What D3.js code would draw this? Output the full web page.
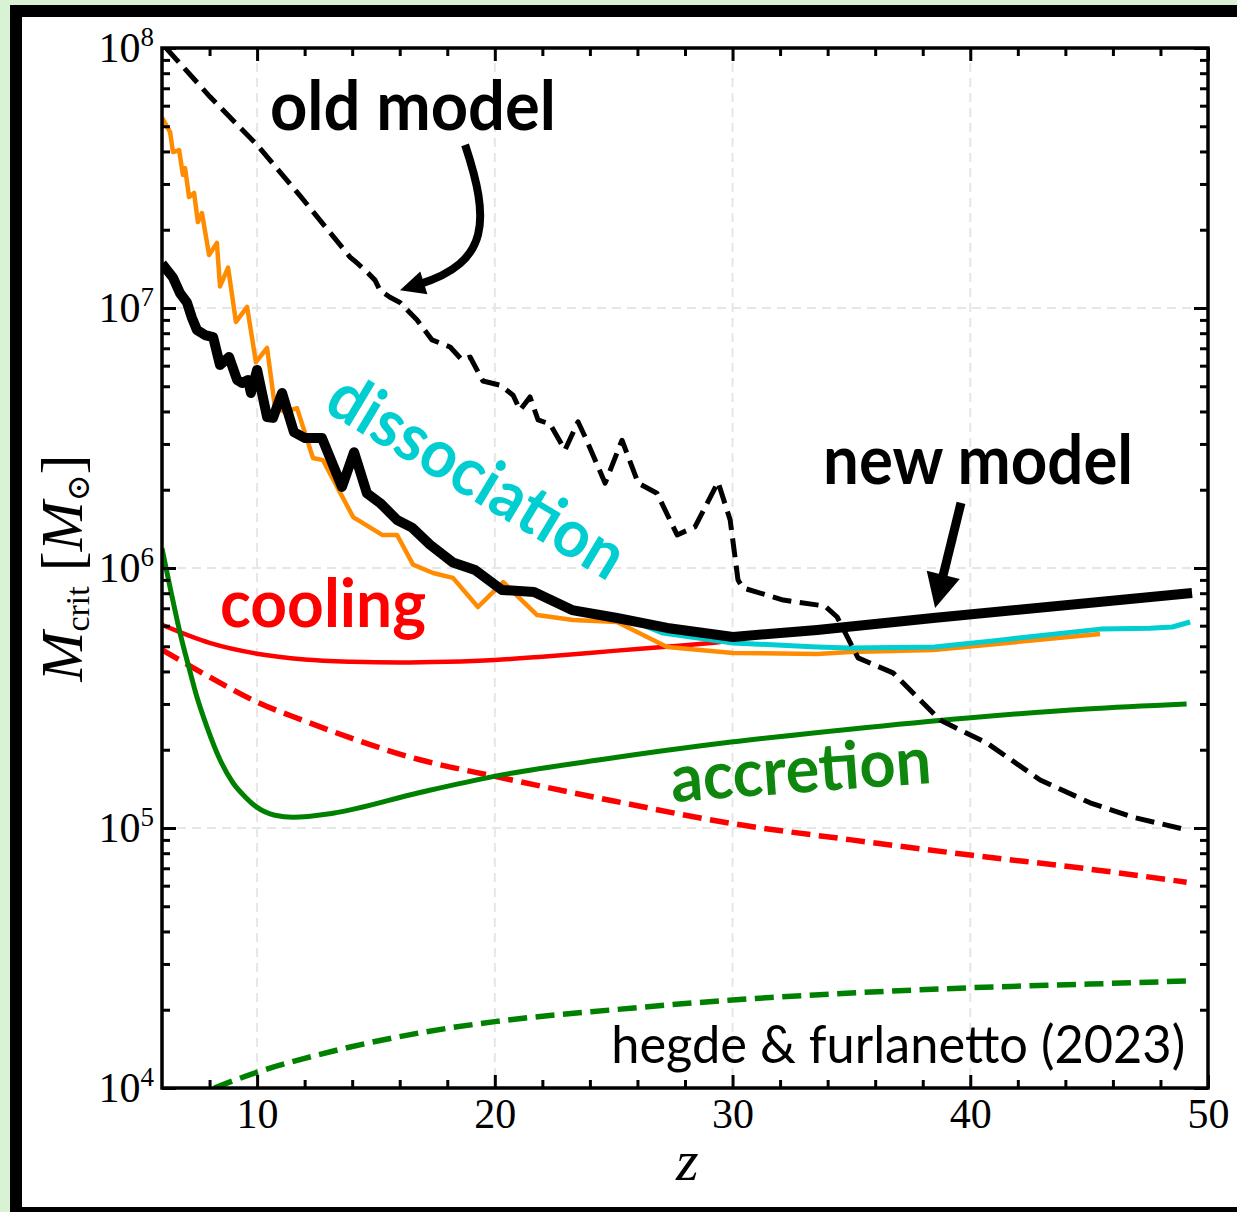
<!DOCTYPE html>
<html>
<head>
<meta charset="utf-8" />
<title>Critical halo mass vs redshift</title>
<script src="https://cdnjs.cloudflare.com/ajax/libs/d3/7.8.5/d3.min.js"></script>
<style>
	body { margin: 0; background: #d9f2d3; }
	svg { display: block; }
	.tick line { stroke: #000; stroke-width: 3; }
	.serif { font-family: "Liberation Serif", "DejaVu Serif", serif; fill: #000; }
	.note { font-family: Lato, "Noto Sans", sans-serif; font-weight: 700; }
</style>
</head>
<body>
<svg id="chart" width="1237" height="1212"></svg>
<script>
// axis ticks
const xMajor = [10, 20, 30, 40, 50];
const xMinor = [8, 12, 14, 16, 18, 22, 24, 26, 28, 32, 34, 36, 38, 42, 44, 46, 48];
const yExps = [4, 5, 6, 7, 8];
const xGrid = [10, 20, 30, 40];
const yGrid = [1e5, 1e6, 1e7];

// old model (black dashed)
const zOld = [6.17, 8.02, 10.0, 11.81, 13.91, 14.20, 14.54, 14.96, 15.17, 15.59, 16.01, 16.73, 17.36, 18.12, 18.62, 18.96, 19.50, 20.22, 20.77, 21.06, 21.48, 21.82, 22.32, 22.95, 23.50, 23.80, 24.64, 25.35, 26.03, 26.82, 27.67, 28.42, 29.39, 29.90, 30.23, 30.44, 32.13, 33.89, 34.40, 35.28, 36.75, 38.73, 40.71, 42.94, 45.04, 46.85, 49.12];
const mOld = [1.0e8, 6.49e7, 4.24e7, 2.70e7, 1.57e7, 1.49e7, 1.40e7, 1.28e7, 1.17e7, 1.10e7, 1.05e7, 8.99e6, 7.54e6, 7.08e6, 6.31e6, 6.48e6, 5.24e6, 5.05e6, 4.62e6, 4.05e6, 4.55e6, 3.71e6, 3.58e6, 2.84e6, 3.65e6, 3.19e6, 2.12e6, 3.10e6, 2.12e6, 1.94e6, 1.34e6, 1.44e6, 2.14e6, 1.53e6, 8.99e5, 8.38e5, 7.53e5, 7.14e5, 6.48e5, 4.51e5, 3.95e5, 2.60e5, 2.12e5, 1.53e5, 1.25e5, 1.10e5, 9.83e4];

// new model (thick black)
const zNew = [6.0, 6.46, 6.76, 7.05, 7.26, 7.47, 7.81, 8.15, 8.44, 8.82, 9.16, 9.37, 9.62, 9.74, 10.0, 10.42, 10.67, 11.05, 11.55, 12.02, 12.73, 13.57, 14.08, 14.62, 15.17, 15.89, 16.52, 17.27, 18.24, 19.17, 20.30, 21.65, 23.25, 25.14, 27.25, 30.02, 33.56, 38.44, 49.33];
const mNew = [1.48e7, 1.31e7, 1.14e7, 1.05e7, 9.16e6, 8.23e6, 7.87e6, 7.73e6, 6.04e6, 6.48e6, 5.29e6, 5.15e6, 5.29e6, 4.71e6, 5.78e6, 3.81e6, 3.78e6, 4.71e6, 3.33e6, 3.16e6, 3.16e6, 2.05e6, 2.79e6, 1.94e6, 1.78e6, 1.53e6, 1.43e6, 1.23e6, 1.05e6, 9.82e5, 8.23e5, 8.09e5, 6.89e5, 6.42e5, 5.88e5, 5.43e5, 5.78e5, 6.42e5, 8.02e5];

// orange (new model without dissociation)
const zOrange = [6.0, 6.34, 6.46, 6.72, 6.88, 6.97, 7.14, 7.35, 7.51, 7.68, 7.98, 8.31, 8.44, 8.78, 9.11, 9.58, 9.95, 10.42, 10.75, 11.17, 11.68, 12.35, 12.77, 14.04, 15.26, 15.89, 16.56, 17.40, 18.24, 19.29, 20.35, 21.78, 23.29, 25.14, 27.25, 30.02, 33.56, 34.94, 38.44, 45.46];
const mOrange = [5.4e7, 4.75e7, 3.98e7, 4.05e7, 3.25e7, 3.45e7, 2.67e7, 2.77e7, 2.14e7, 2.32e7, 1.60e7, 1.78e7, 1.21e7, 1.43e7, 8.84e6, 1.01e7, 6.19e6, 7.02e6, 4.16e6, 3.98e6, 4.12e6, 2.65e6, 2.60e6, 1.57e6, 1.34e6, 1.34e6, 1.03e6, 9.57e5, 9.16e5, 7.08e5, 8.83e5, 6.59e5, 6.31e5, 6.2e5, 4.97e5, 4.71e5, 4.67e5, 4.75e5, 4.84e5, 5.57e5];

// dissociation (cyan)
const zCyan = [26.1, 27.08, 30.02, 33.55, 34.94, 38.5, 41.25, 45.46, 47.56, 48.5, 49.25];
const mCyan = [6.1e5, 5.62e5, 5.15e5, 4.97e5, 4.92e5, 4.97e5, 5.28e5, 5.82e5, 5.87e5, 5.93e5, 6.2e5];

// cooling (red solid / dashed)
const zCool = [6, 8, 10, 12, 14, 16, 18, 20, 22, 25, 28, 29.5];
const mCool = [6.04e5, 5.15e5, 4.68e5, 4.45e5, 4.36e5, 4.33e5, 4.36e5, 4.43e5, 4.56e5, 4.8e5, 5.05e5, 5.19e5];
const zCoolOld = [6, 8, 10, 12, 16.85, 20, 25, 30, 35, 40, 45, 49.1];
const mCoolOld = [4.84e5, 3.81e5, 3.05e5, 2.58e5, 1.83e5, 1.58e5, 1.27e5, 1.04e5, 9.0e4, 7.87e4, 6.95e4, 6.19e4];

// accretion (green solid / dashed)
const zAcc = [6, 6.38, 6.76, 7.14, 7.47, 7.89, 8.44, 8.99, 9.49, 10, 10.75, 11.51, 13.19, 16.85, 19.97, 24.43, 29.94, 34.94, 39.9, 44.9, 49.1];
const mAcc = [1.19e6, 8.09e5, 5.62e5, 4.12e5, 3.19e5, 2.45e5, 1.83e5, 1.49e5, 1.32e5, 1.20e5, 1.12e5, 1.10e5, 1.14e5, 1.37e5, 1.58e5, 1.83e5, 2.14e5, 2.40e5, 2.65e5, 2.87e5, 3.0e5];
const zAccOld = [8.2, 10, 12, 16.85, 20, 25, 30, 35, 40, 45, 49.1];
const mAccOld = [1.0e4, 1.15e4, 1.30e4, 1.63e4, 1.80e4, 2.0e4, 2.18e4, 2.32e4, 2.43e4, 2.51e4, 2.58e4];

const svg = d3.select("#chart");
const W = 1237, H = 1212;
const pLeft = 162, pRight = 1208, pTop = 48, pBottom = 1088;

// outer frame
svg.append("rect").attr("x", 0).attr("y", 0).attr("width", W).attr("height", H).attr("fill", "#d9f2d3");
svg.append("rect").attr("x", 16).attr("y", 11).attr("width", 1260).attr("height", 1202)
	.attr("fill", "#fff").attr("stroke", "#000").attr("stroke-width", 12);

const x = d3.scaleLinear().domain([6, 50]).range([pLeft, pRight]);
const y = d3.scaleLog().domain([1e4, 1e8]).range([pBottom, pTop]);

// grid
const grid = svg.append("g").attr("stroke", "#e6e6e6").attr("stroke-width", 2).attr("stroke-dasharray", "9,6");
grid.selectAll(".gx").data(xGrid).enter().append("line")
	.attr("x1", d => x(d)).attr("x2", d => x(d)).attr("y1", pTop).attr("y2", pBottom);
grid.selectAll(".gy").data(yGrid).enter().append("line")
	.attr("y1", d => y(d)).attr("y2", d => y(d)).attr("x1", pLeft).attr("x2", pRight);

svg.append("clipPath").attr("id", "plotclip").append("rect")
	.attr("x", pLeft).attr("y", pTop).attr("width", pRight - pLeft).attr("height", pBottom - pTop);

const curves = [
	{ z: zCoolOld, m: mCoolOld, color: "#ff0000", width: 5.5, dash: "19,8.5", smooth: true },
	{ z: zCool, m: mCool, color: "#ff0000", width: 4.5, dash: null, smooth: true },
	{ z: zAccOld, m: mAccOld, color: "#008000", width: 5.5, dash: "19,8.5", smooth: true },
	{ z: zAcc, m: mAcc, color: "#008000", width: 5, dash: null, smooth: true },
	{ z: zOrange, m: mOrange, color: "#ff8c00", width: 4.5, dash: null, smooth: false },
	{ z: zCyan, m: mCyan, color: "#00ced1", width: 5, dash: null, smooth: false },
	{ z: zOld, m: mOld, color: "#000", width: 5, dash: "19,8.5", smooth: false },
	{ z: zNew, m: mNew, color: "#000", width: 10, dash: null, smooth: false }
];

const plot = svg.append("g").attr("clip-path", "url(#plotclip)");
curves.forEach(c => {
	const line = d3.line()
		.x(d => x(d[0]))
		.y(d => y(d[1]))
		.curve(c.smooth ? d3.curveMonotoneX : d3.curveLinear);
	plot.append("path")
		.datum(d3.zip(c.z, c.m))
		.attr("d", line)
		.attr("fill", "none")
		.attr("stroke", c.color)
		.attr("stroke-width", c.width)
		.attr("stroke-linejoin", "round")
		.attr("stroke-dasharray", c.dash);
});

// axes with inward ticks
const yMinor = [];
for (let k = 4; k < 8; k++) for (let j = 2; j <= 9; j++) yMinor.push(j * Math.pow(10, k));
const yMajor = yExps.map(e => Math.pow(10, e));

function addAxis(axis, tr) {
	const g = svg.append("g").attr("transform", tr).call(axis);
	g.select(".domain").remove();
	return g;
}
const xb = addAxis(d3.axisBottom(x).tickValues(xMajor).tickSize(-13).tickPadding(10).tickFormat(d3.format("d")), `translate(0,${pBottom})`);
xb.selectAll("text").attr("class", "serif").style("font-size", "42px");
addAxis(d3.axisBottom(x).tickValues(xMinor).tickSize(-8).tickFormat(""), `translate(0,${pBottom})`);
addAxis(d3.axisTop(x).tickValues(xMajor).tickSize(-13).tickFormat(""), `translate(0,${pTop})`);
addAxis(d3.axisTop(x).tickValues(xMinor).tickSize(-8).tickFormat(""), `translate(0,${pTop})`);
addAxis(d3.axisLeft(y).tickValues(yMajor).tickSize(-14).tickFormat(""), `translate(${pLeft},0)`);
addAxis(d3.axisLeft(y).tickValues(yMinor).tickSize(-8).tickFormat(""), `translate(${pLeft},0)`);
addAxis(d3.axisRight(y).tickValues(yMajor).tickSize(-14).tickFormat(""), `translate(${pRight},0)`);
addAxis(d3.axisRight(y).tickValues(yMinor).tickSize(-8).tickFormat(""), `translate(${pRight},0)`);

svg.append("rect").attr("x", pLeft).attr("y", pTop).attr("width", pRight - pLeft).attr("height", pBottom - pTop)
	.attr("fill", "none").attr("stroke", "#000").attr("stroke-width", 3.5);

// y tick labels 10^k
yExps.forEach(e => {
	const t = svg.append("text").attr("class", "serif")
		.attr("x", pLeft - 8).attr("y", y(Math.pow(10, e)) + 14)
		.attr("text-anchor", "end").style("font-size", "42px");
	t.append("tspan").text("10");
	t.append("tspan").attr("dy", -16).style("font-size", "27px").text(e);
});

// axis titles
svg.append("text").attr("class", "serif")
	.attr("x", x(28.1)).attr("y", 1180).attr("text-anchor", "middle")
	.style("font-size", "58px").style("font-style", "italic").text("z");

const yl = svg.append("text").attr("class", "serif")
	.attr("transform", `translate(82,${(pTop + pBottom) / 2}) rotate(-90)`)
	.attr("text-anchor", "middle").style("font-size", "60px");
yl.append("tspan").style("font-style", "italic").text("M");
yl.append("tspan").style("font-size", "34px").attr("dy", 7).text("crit");
yl.append("tspan").attr("dy", -7).text(" [");
yl.append("tspan").style("font-style", "italic").text("M");
yl.append("tspan").style("font-size", "32px").attr("dy", 7).text("\u2299");
yl.append("tspan").attr("dy", -7).text("]");

// annotations (positions in data coordinates)
const notes = [
	{ text: "old model", z: 10.54, m: 4.84e7, color: "#000", size: 68, len: 286, rot: 0, anchor: "start" },
	{ text: "new model", z: 33.81, m: 2.10e6, color: "#000", size: 68, len: 310, rot: 0, anchor: "start" },
	{ text: "cooling", z: 8.44, m: 5.93e5, color: "#ff0000", size: 66, len: 206, rot: 0, anchor: "start" },
	{ text: "accretion", z: 27.46, m: 1.26e5, color: "#0f870f", size: 66, len: 261, rot: -4.2, anchor: "start" },
	{ text: "dissociation", z: 12.73, m: 4.06e6, color: "#00ced1", size: 67, len: 334, rot: 31, anchor: "start" },
	{ text: "hegde & furlanetto (2023)", z: 49.04, m: 1.25e4, color: "#000", size: 52, len: 574, rot: 0, anchor: "end", weight: 400 }
];
notes.forEach(n => {
	svg.append("text").attr("class", "note")
		.attr("transform", `translate(${x(n.z)},${y(n.m)}) rotate(${n.rot})`)
		.attr("text-anchor", n.anchor)
		.attr("fill", n.color)
		.style("font-size", n.size + "px")
		.style("font-weight", n.weight || 700)
		.attr("textLength", n.len)
		.attr("lengthAdjust", "spacingAndGlyphs")
		.text(n.text);
});

// arrows
function arrowHead(tip, from, len, half) {
	const dx = tip[0] - from[0], dy = tip[1] - from[1];
	const L = Math.hypot(dx, dy), ux = dx / L, uy = dy / L;
	const bx = tip[0] - ux * len, by = tip[1] - uy * len;
	return [tip, [bx - uy * half, by + ux * half], [bx + uy * half, by - ux * half]];
}
const P = (z, m) => [x(z), y(m)];

// old model: curved arrow
{
	const s = P(18.75, 4.24e7), c1 = P(19.80, 2.18e7), c2 = P(19.80, 1.50e7), tip = P(16.01, 1.17e7);
	const head = arrowHead(tip, c2, 25, 12);
	const dx = tip[0] - c2[0], dy = tip[1] - c2[1], L = Math.hypot(dx, dy);
	const e = [tip[0] - dx / L * 20, tip[1] - dy / L * 20];
	const p = d3.path();
	p.moveTo(s[0], s[1]);
	p.bezierCurveTo(c1[0], c1[1], c2[0], c2[1], e[0], e[1]);
	svg.append("path").attr("d", p.toString()).attr("fill", "none").attr("stroke", "#000").attr("stroke-width", 8);
	svg.append("polygon").attr("points", head.map(q => q.join(",")).join(" ")).attr("fill", "#000");
}
// new model: straight arrow
{
	const s = P(39.61, 1.78e6), tip = P(38.52, 7.02e5);
	const head = arrowHead(tip, s, 34, 17);
	const dx = tip[0] - s[0], dy = tip[1] - s[1], L = Math.hypot(dx, dy);
	svg.append("line").attr("x1", s[0]).attr("y1", s[1])
		.attr("x2", tip[0] - dx / L * 28).attr("y2", tip[1] - dy / L * 28)
		.attr("stroke", "#000").attr("stroke-width", 9);
	svg.append("polygon").attr("points", head.map(q => q.join(",")).join(" ")).attr("fill", "#000");
}
</script>
</body>
</html>
